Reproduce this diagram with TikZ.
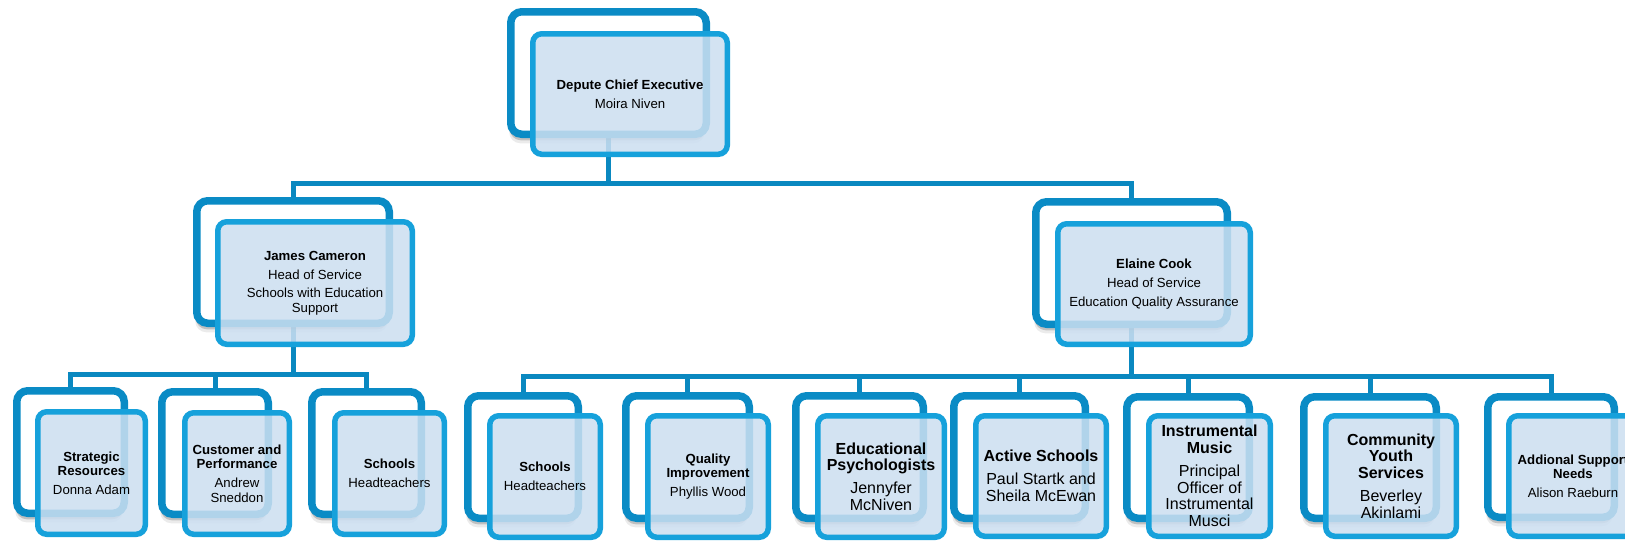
\documentclass[tikz,border=0pt]{standalone}
\usepackage{fontspec}
\setmainfont{Liberation Sans}
\usetikzlibrary{shadows}
\definecolor{backblue}{RGB}{10,139,197}
\definecolor{frontblue}{RGB}{22,161,219}
\definecolor{frontfill}{RGB}{204,223,241}
\definecolor{linkblue}{RGB}{10,136,192}
\pgfdeclarelayer{bg}
\pgfsetlayers{bg,main}
\tikzset{
  backbox/.style={draw=backblue, line width=7.5pt, fill=white, rounded corners=11pt, inner sep=0pt,
    drop shadow={shadow xshift=-1pt, shadow yshift=-6pt, opacity=.18, fill=black},
    drop shadow={shadow xshift=-1.5pt, shadow yshift=-9pt, opacity=.08, fill=black}},
  frontbox/.style={draw=frontblue, line width=5.5pt, fill=frontfill, fill opacity=.86, draw opacity=1, rounded corners=9pt, inner sep=0pt},
  labelsm/.style={align=center, font=\fontsize{13.2}{14.2}\selectfont, inner sep=0pt, text=black},
  labelbig/.style={align=center, font=\fontsize{16}{16.8}\selectfont, inner sep=0pt, text=black},
  link/.style={draw=linkblue, line width=5pt}
}
\newcommand\pairbox[9]{%
  \pgfmathsetmacro\pbw{#4-#2-7.5}\pgfmathsetmacro\pbh{#5-#3-7.5}%
  \pgfmathsetmacro\pbx{(#2+#4)/2}\pgfmathsetmacro\pby{(#3+#5)/2}%
  \node[backbox, minimum width=\pbw pt, minimum height=\pbh pt] (#1B) at (\pbx,\pby) {};
  \pgfmathsetmacro\pbw{#8-#6-5.5}\pgfmathsetmacro\pbh{#9-#7-5.5}%
  \pgfmathsetmacro\pbx{(#6+#8)/2}\pgfmathsetmacro\pby{(#7+#9)/2}%
  \node[frontbox, minimum width=\pbw pt, minimum height=\pbh pt] (#1F) at (\pbx,\pby) {};
}
\begin{document}
\begin{tikzpicture}[x=1pt,y=-1pt]
\useasboundingbox (0,0) rectangle (1625,542);
\clip (0,0) rectangle (1625,542);

\pairbox{t}{507}{8}{710}{138}{530}{31}{730}{157}
\node[labelsm] (tT) at (tF) {\textbf{Depute Chief Executive}\\[5pt]Moira Niven};

\pairbox{l}{193}{197}{393}{327}{215}{219}{415}{347}
\node[labelsm] (lT) at (lF) {\textbf{James Cameron}\\[5pt]Head of Service\\[4pt]Schools with Education\\Support};

\pairbox{r}{1032}{198}{1231}{328}{1055}{221}{1253}{347}
\node[labelsm] (rT) at (rF) {\textbf{Elaine Cook}\\[5pt]Head of Service\\[5pt]Education Quality Assurance};

\pairbox{a}{13}{387}{128}{517}{35}{409}{148}{537}
\node[labelsm] (aT) at (aF) {\textbf{Strategic}\\\textbf{Resources}\\[5pt]Donna Adam};

\pairbox{b}{158}{388}{272}{518}{182}{410}{292}{537}
\node[labelsm] (bT) at (bF) {\textbf{Customer and}\\\textbf{Performance}\\[5pt]Andrew\\Sneddon};

\pairbox{c}{308}{388}{425}{518}{332}{410}{447}{537}
\node[labelsm] (cT) at (cF) {\textbf{Schools}\\[5pt]Headteachers};

\pairbox{d}{464}{392}{582}{522}{487}{413}{603}{540}
\node[labelsm] (dT) at (dF) {\textbf{Schools}\\[5pt]Headteachers};

\pairbox{e}{622}{392}{753}{522}{645}{413}{771}{540}
\node[labelsm] (eT) at (eF) {\textbf{Quality}\\\textbf{Improvement}\\[5pt]Phyllis Wood};

\pairbox{f}{792}{392}{927}{522}{815}{413}{947}{540}
\node[labelbig] (fT) at (fF) {\textbf{Educational}\\\textbf{Psychologists}\\[6pt]Jennyfer\\McNiven};

\pairbox{g}{950}{392}{1089}{522}{973}{413}{1109}{539}
\node[labelbig] (gT) at (gF) {\textbf{Active Schools}\\[6pt]Paul Startk and\\Sheila McEwan};

\pairbox{h}{1123}{393}{1253}{522}{1146}{413}{1273}{539}
\node[labelbig] (hT) at (hF) {\textbf{Instrumental}\\\textbf{Music}\\[6pt]Principal\\Officer of\\Instrumental\\Musci};

\pairbox{i}{1300}{393}{1440}{522}{1323}{413}{1459}{539}
\node[labelbig] (iT) at (iF) {\textbf{Community}\\\textbf{Youth}\\\textbf{Services}\\[6pt]Beverley\\Akinlami};

\pairbox{j}{1484}{393}{1618}{521}{1506}{413}{1640}{539}
\node[labelsm] (jT) at (jF) {\textbf{Addional Support}\\\textbf{Needs}\\[5pt]Alison Raeburn};

\coordinate (bus0) at (0,183);
\coordinate (busL) at (0,374);
\coordinate (busR) at (0,376);
\begin{pgfonlayer}{bg}
\fill[white] (0,0) rectangle (1625,542);
\draw[link] (lB.north) |- (tB.south |- bus0) -- (tB.south);
\draw[link] (rB.north) |- (tB.south |- bus0);
\draw[link] (aB.north) |- (lB.south |- busL) -- (lB.south);
\draw[link] (cB.north) |- (lB.south |- busL);
\draw[link] (bB.north) -- (bB.north |- busL);
\draw[link] (dB.north) |- (rB.south |- busR) -- (rB.south);
\draw[link] (jB.north) |- (rB.south |- busR);
\draw[link] (eB.north) -- (eB.north |- busR);
\draw[link] (fB.north) -- (fB.north |- busR);
\draw[link] (gB.north) -- (gB.north |- busR);
\draw[link] (hB.north) -- (hB.north |- busR);
\draw[link] (iB.north) -- (iB.north |- busR);
\end{pgfonlayer}
\end{tikzpicture}
\end{document}
